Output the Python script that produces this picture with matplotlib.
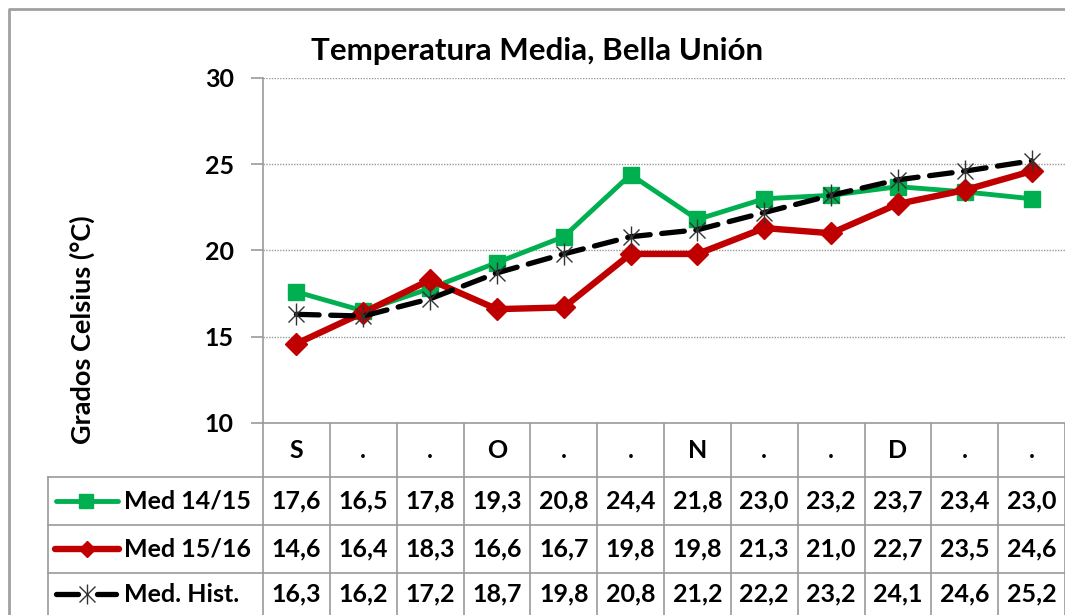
import matplotlib

matplotlib.use("Agg")
import matplotlib.pyplot as plt

plt.rcParams["font.family"] = ["Lato", "DejaVu Sans"]
plt.rcParams["font.weight"] = "bold"

CATEGORIES = ["S", ".", ".", "O", ".", ".", "N", ".", ".", "D", ".", "."]
MED_1415 = [17.6, 16.5, 17.8, 19.3, 20.8, 24.4, 21.8, 23.0, 23.2, 23.7, 23.4, 23.0]
MED_1516 = [14.6, 16.4, 18.3, 16.6, 16.7, 19.8, 19.8, 21.3, 21.0, 22.7, 23.5, 24.6]
MED_HIST = [16.3, 16.2, 17.2, 18.7, 19.8, 20.8, 21.2, 22.2, 23.2, 24.1, 24.6, 25.2]
SERIES_NAMES = ["Med 14/15", "Med 15/16", "Med. Hist."]
Y_TICKS = [10, 15, 20, 25, 30]

GREEN = "#00B050"
RED = "#C00000"
GRID = "#999999"
W, H = 1065, 615

fig = plt.figure(figsize=(W / 100, H / 100), dpi=100)

# background axes in pixel coords for table, border, labels
bg = fig.add_axes([0, 0, 1, 1])
bg.set_xlim(0, W)
bg.set_ylim(H, 0)
bg.axis("off")

px_l, px_r, px_t, px_b = 263, 1065, 78, 423
ax = fig.add_axes([px_l / W, 1 - px_b / H, (px_r - px_l) / W, (px_b - px_t) / H])
n = len(CATEGORIES)
xs = [i + 0.5 for i in range(n)]
ax.set_xlim(0, n)
ax.set_ylim(10, 30)
ax.set_yticks(Y_TICKS)
ax.set_yticklabels([str(t) for t in Y_TICKS], fontsize=18, fontweight="bold")
ax.set_xticks([])
for side in ["top", "right"]:
    ax.spines[side].set_visible(False)
for side in ["left", "bottom"]:
    ax.spines[side].set_color(GRID)
    ax.spines[side].set_linewidth(1.2)
ax.tick_params(axis="y", length=9, width=1.2, color=GRID, pad=12)
for t in Y_TICKS[1:]:
    ax.axhline(t, color=GRID, lw=1.0, ls=(0, (1, 1)), zorder=0)

ax.plot(xs, MED_1415, color=GREEN, lw=3.5, marker="s", ms=11.5, mec=GREEN, zorder=3)
ax.plot(xs, MED_1516, color=RED, lw=4.6, marker="D", ms=11.5, mec=RED, zorder=4)
ax.plot(xs, MED_HIST, color="black", lw=3.8, dashes=(4.3, 2.2), dash_capstyle="round", zorder=5)
ax.plot(xs, MED_HIST, ls="none", marker="x", ms=12, mew=1.0, color="#333333", zorder=6)
ax.plot(xs, MED_HIST, ls="none", marker="|", ms=16, mew=1.0, color="#333333", zorder=6)

# outer chart border
bg.plot([8.5, 8.5, W], [H, 8.5, 8.5], color="#A0A0A0", lw=2)

# title and y label
fig.text(537 / W, 1 - 51 / H, "Temperatura Media, Bella Unión", ha="center", va="center",
         fontsize=22.5, fontweight="bold")
fig.text(82 / W, 1 - 330 / H, "Grados Celsius (°C)", ha="center", va="center",
         rotation=90, fontsize=19.5, fontweight="bold")

# data table
col_w = (px_r - px_l) / n
row_edges = [423, 477, 525, 573, 640]
leg_l = 48
for i in range(n + 1):
    x = px_l + i * col_w
    bg.plot([x, x], [row_edges[0], H], color=GRID, lw=1.2)
bg.plot([leg_l, leg_l], [row_edges[1], H], color=GRID, lw=1.2)
for y in row_edges[1:4]:
    bg.plot([leg_l, W], [y, y], color=GRID, lw=1.2)

cat_y = (row_edges[0] + row_edges[1]) / 2
for i, c in enumerate(CATEGORIES):
    bg.text(px_l + (i + 0.5) * col_w, cat_y, c, ha="center", va="center", fontsize=18, fontweight="bold")

row_ys = [501, 549, 594]
for vals, y in zip([MED_1415, MED_1516, MED_HIST], row_ys):
    for i, v in enumerate(vals):
        bg.text(px_l + (i + 0.5) * col_w, y, f"{v:.1f}".replace(".", ","), ha="center", va="center",
                fontsize=18, fontweight="bold")

# legend keys
bg.plot([56, 118], [row_ys[0], row_ys[0]], color=GREEN, lw=3.5, solid_capstyle="round")
bg.plot([86], [row_ys[0]], marker="s", ms=10.5, color=GREEN)
bg.plot([55, 119], [row_ys[1], row_ys[1]], color=RED, lw=4.6, solid_capstyle="round")
bg.plot([87], [row_ys[1]], marker="D", ms=8, color=RED)
bg.plot([56, 78], [row_ys[2], row_ys[2]], color="black", lw=3.8, solid_capstyle="round")
bg.plot([97, 116], [row_ys[2], row_ys[2]], color="black", lw=3.8, solid_capstyle="round")
bg.plot([87], [row_ys[2]], marker="x", ms=11, mew=1.0, color="#333333")
bg.plot([87], [row_ys[2]], marker="|", ms=15, mew=1.0, color="#333333")
for name, y in zip(SERIES_NAMES, row_ys):
    bg.text(124, y, name, ha="left", va="center", fontsize=18, fontweight="bold")

fig.savefig("out.png", dpi=100)
